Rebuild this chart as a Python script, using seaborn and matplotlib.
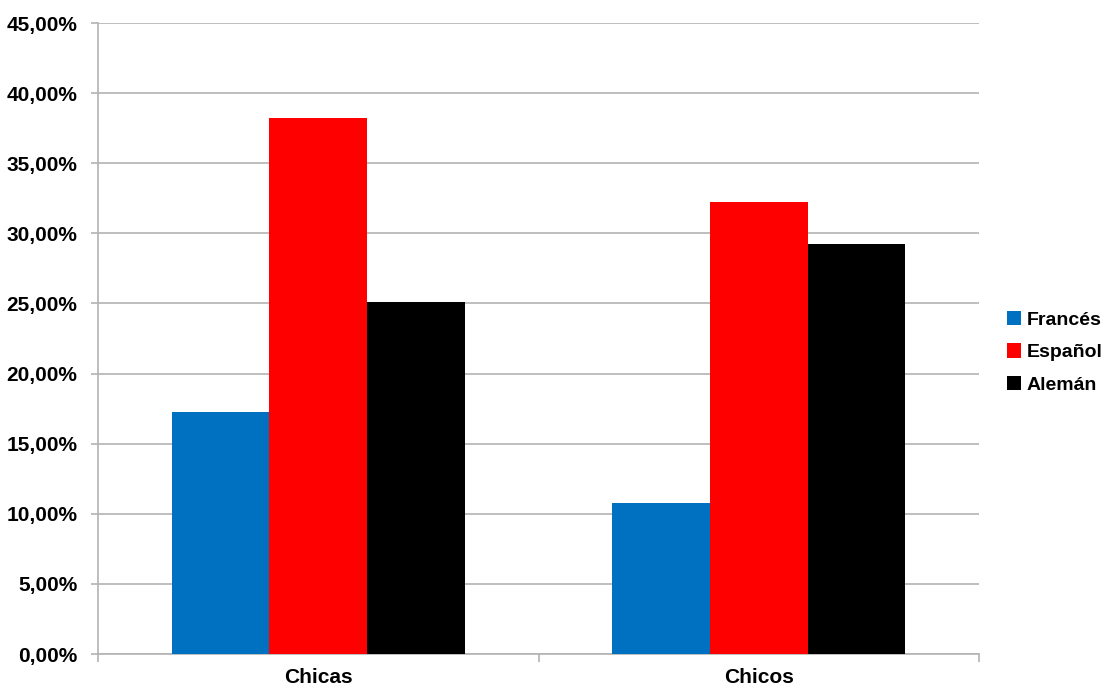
import matplotlib
matplotlib.use("Agg")
import matplotlib.pyplot as plt
from matplotlib.ticker import FuncFormatter, MultipleLocator, FixedLocator
from matplotlib.patches import Patch
import seaborn as sns
import pandas as pd

# Percentage of students choosing each language, by group
grupos = ["Chicas", "Chicos"]
idiomas = ["Francés", "Español", "Alemán"]
frances = [17.26, 10.77]
espanol = [38.23, 32.23]
aleman = [25.10, 29.24]
colores = ["#0070C0", "#FF0000", "#000000"]

df = pd.DataFrame({
    "grupo": grupos * 3,
    "idioma": [idiomas[0]] * 2 + [idiomas[1]] * 2 + [idiomas[2]] * 2,
    "valor": frances + espanol + aleman,
})

sns.set_theme(style="white")
plt.rcParams["font.family"] = ["Liberation Sans", "DejaVu Sans"]
plt.rcParams["font.weight"] = "bold"
plt.rcParams["text.color"] = "black"

fig = plt.figure(figsize=(11.04, 6.87), dpi=100)
ax = fig.add_axes([0.0888, 0.048, 0.798, 0.9185])

sns.barplot(data=df, x="grupo", y="valor", hue="idioma", order=grupos,
            hue_order=idiomas, palette=colores, width=0.665,
            saturation=1, linewidth=0, ax=ax, legend=False, zorder=3)

ax.set_xlim(-0.5, 1.5)
ax.set_ylim(0, 45)
ax.set_xlabel("")
ax.set_ylabel("")

grid_color = "#B3B3B3"
ax.yaxis.set_major_locator(MultipleLocator(5))
ax.yaxis.set_major_formatter(FuncFormatter(lambda v, p: f"{v:.2f}%".replace(".", ",")))
ax.grid(axis="y", color=grid_color, linewidth=1.2, zorder=0)
ax.set_axisbelow(True)

for side in ["top", "right"]:
    ax.spines[side].set_visible(False)
for side in ["left", "bottom"]:
    ax.spines[side].set_color(grid_color)
    ax.spines[side].set_linewidth(1.2)

ax.tick_params(axis="y", which="major", left=True, length=5, width=1.2,
               color=grid_color, pad=10, labelsize=15, labelcolor="black")
ax.tick_params(axis="x", which="major", bottom=False, length=0, pad=10,
               labelsize=15, labelcolor="black")
ax.xaxis.set_minor_locator(FixedLocator([-0.5, 0.5, 1.5]))
ax.tick_params(axis="x", which="minor", bottom=True, length=6, width=1.2,
               color=grid_color)
for lbl in ax.get_xticklabels() + ax.get_yticklabels():
    lbl.set_fontweight("bold")

handles = [Patch(facecolor=c, edgecolor="none") for c in colores]
fig.legend(handles, idiomas, loc="center left", bbox_to_anchor=(0.905, 0.487),
           frameon=False, prop={"size": 14, "weight": "bold"}, labelcolor="black",
           handlelength=0.75, handleheight=0.75, handletextpad=0.25,
           labelspacing=0.75, borderaxespad=0)

fig.savefig("out.png", dpi=100)
